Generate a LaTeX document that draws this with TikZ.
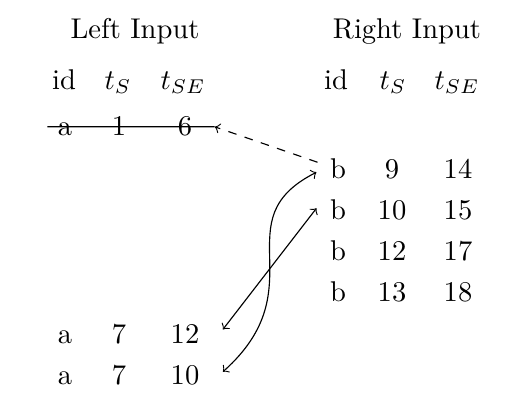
\documentclass[tikz,border=0pt]{standalone}
\usetikzlibrary{calc}
\begin{document}
\begin{tikzpicture}[x=0.35pt,y=-0.35pt,
  cell/.style={anchor=base,inner sep=0pt},
  link/.style={line width=0.4pt}]
\useasboundingbox (0,0) rectangle (513,407);
% titles
\node[cell] (lt) at (135,39) {Left Input};
\node[cell] (rt) at (407,39) {Right Input};
% headers
\node[cell] (lh1) at (64,89) {id};
\node[cell] (lh2) at (118,89) {$t_S$};
\node[cell] (lh3) at (183,89) {$t_{SE}$};
\node[cell] (rh1) at (336,89) {id};
\node[cell] (rh2) at (393,89) {$t_S$};
\node[cell] (rh3) at (457,89) {$t_{SE}$};
% left rows
\node[cell] (l1a) at (65,135) {a};
\node[cell] (l1b) at (119,135) {1};
\node[cell] (l1c) at (185,135) {6};
\node[cell] (l2a) at (65,343) {a};
\node[cell] (l2b) at (119,343) {7};
\node[cell] (l2c) at (185,343) {12};
\node[cell] (l3a) at (65,384) {a};
\node[cell] (l3b) at (119,384) {7};
\node[cell] (l3c) at (185,384) {10};
% right rows
\node[cell] (r1a) at (338,178) {b};
\node[cell] (r1b) at (392,178) {9};
\node[cell] (r1c) at (458,178) {14};
\node[cell] (r2a) at (338,219) {b};
\node[cell] (r2b) at (392,219) {10};
\node[cell] (r2c) at (458,219) {15};
\node[cell] (r3a) at (338,260) {b};
\node[cell] (r3b) at (392,260) {12};
\node[cell] (r3c) at (458,260) {17};
\node[cell] (r4a) at (338,301) {b};
\node[cell] (r4b) at (392,301) {13};
\node[cell] (r4c) at (458,301) {18};
% connector ends
\coordinate (sS) at ($(l1a.west)+(-10,-2)$);
\coordinate (sE) at ($(l1c.east)+(22,1)$);
\coordinate (dS) at ($(r1a.west)+(-12,-6)$);
\coordinate (r1in) at ($(r1a.west)+(-13,4)$);
\coordinate (r2in) at ($(r2a.west)+(-13,-1)$);
\coordinate (l2out) at ($(l2c.east)+(23,-4)$);
\coordinate (l3out) at ($(l3c.east)+(23,-3)$);
% strike-through
\draw[link] (sS) -- (sE);
% connectors
\draw[link,->,dashed] (dS) -- (sE);
\draw[link,<->] (r2in) -- (l2out);
\draw[link,<->] (l3out) .. controls +(95,-85) and +(-95,48) .. (r1in);
\end{tikzpicture}
\end{document}
